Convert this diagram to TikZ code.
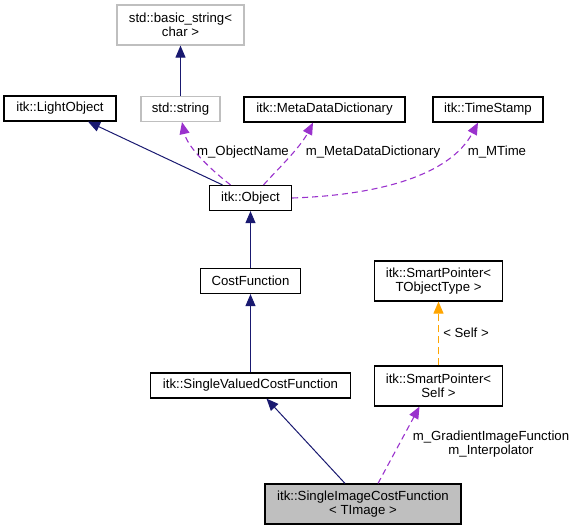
\documentclass[tikz,border=0pt]{standalone}
\usepackage{fontspec}
\setmainfont{Liberation Sans}
\usepackage{tikz}
\usetikzlibrary{arrows.meta,positioning,calc}
\definecolor{inhblue}{HTML}{191970}
\definecolor{usepurple}{HTML}{9A32CD}
\definecolor{tplorange}{HTML}{FFA500}
\definecolor{boxgray}{HTML}{BFBFBF}

\begin{document}
\begin{tikzpicture}[x=1pt,y=-1pt,>={Triangle[length=12pt,width=10pt]},
  font=\fontsize{13.2}{14.5}\selectfont,
  cls/.style={draw,line width=1.2pt,align=center,inner sep=0pt,minimum height=25pt},
  cls2/.style={cls,minimum height=40pt},
  ext/.style={cls,draw=boxgray},
  inh/.style={->,line width=1pt,draw=inhblue},
  use/.style={->,line width=1.1pt,draw=usepurple,dash pattern=on 6pt off 4pt},
  tpl/.style={->,line width=1pt,draw=tplorange,dash pattern=on 7pt off 4pt},
  lbl/.style={inner sep=0pt,align=center}]
\useasboundingbox (0,0) rectangle (574,531);
% classes
\node[ext,minimum width=127pt,minimum height=40pt] (basicstr) at (180.5,25) {std::basic\_string<\\char >};
\node[ext,minimum width=79pt] (stdstr) at (180.5,109) {std::string};
\node[cls,minimum width=112pt] (lightobj) at (60,108.5) {itk::LightObject};
\node[cls,minimum width=161pt] (metadict) at (324.5,109.5) {itk::MetaDataDictionary};
\node[cls,minimum width=110pt] (timestamp) at (488,109.5) {itk::TimeStamp};
\node[cls,minimum width=82pt] (object) at (250.5,198) {itk::Object};
\node[cls,minimum width=100pt] (costfn) at (250.5,281) {CostFunction};
\node[cls,minimum width=200pt] (svcostfn) at (250.5,385.5) {itk::SingleValuedCostFunction};
\node[cls2,minimum width=128pt] (sptype) at (438.5,281) {itk::SmartPointer<\\TObjectType >};
\node[cls2,minimum width=128pt] (spself) at (438.5,386) {itk::SmartPointer<\\Self >};
\node[cls2,minimum width=196pt,fill=boxgray] (sicostfn) at (363,504) {itk::SingleImageCostFunction\\< TImage >};
% edge labels
\node[lbl] (lblname) at (243,152) {m\_ObjectName};
\node[lbl] (lbldict) at (373,152) {m\_MetaDataDictionary};
\node[lbl] (lbltime) at (497,152) {m\_MTime};
\node[lbl] (lblself) at (466,333) {< Self >};
\node[lbl] (lblptr) at (491,444) {m\_GradientImageFunction\\m\_Interpolator};
% inheritance
\draw[inh] (stdstr.north)--(basicstr.south);
\draw[inh] ([xshift=-28pt]object.north)--([xshift=28pt]lightobj.south);
\draw[inh] (costfn.north)--(object.south);
\draw[inh] (svcostfn.north)--(costfn.south);
\draw[inh] ([xshift=-18pt]sicostfn.north)--([xshift=16pt]svcostfn.south);
% members
\draw[use] ([xshift=-20pt]object.north) .. controls (205,165) and (187,145) .. ([xshift=1.5pt]stdstr.south);
\draw[use] ([xshift=13pt]object.north) .. controls (275,172) and (300,148) .. ([xshift=-11.5pt]metadict.south);
\draw[use] (object.east) .. controls (380,195) and (450,175) .. ([xshift=-10pt]timestamp.south);
\draw[use] ([xshift=15pt]sicostfn.north)--([xshift=-19pt]spself.south);
\draw[tpl] (spself.north)--(sptype.south);
\end{tikzpicture}
\end{document}
